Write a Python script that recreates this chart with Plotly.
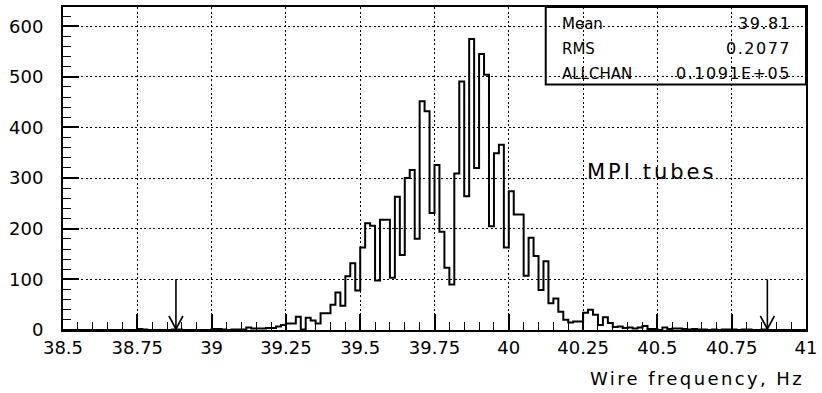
import plotly.graph_objects as go

# Wire frequency histogram: 150 bins between 38.5 and 41 Hz
x_low = 38.5
x_high = 41.0
n_bins = 150
counts = [
    0, 0, 0, 0, 0, 0, 0, 0, 0, 0,
    0, 0, 0, 0, 0, 2, 1, 0, 0, 0,
    0, 0, 1, 1, 0, 0, 0, 0, 0, 0,
    2, 2, 1, 0, 1, 1, 1, 5, 3, 3,
    3, 4, 4, 7, 10, 13, 13, 26, 1, 24,
    19, 13, 33, 33, 50, 74, 48, 106, 132, 78,
    163, 211, 206, 98, 218, 218, 103, 263, 148, 300,
    316, 180, 452, 432, 231, 326, 194, 123, 90, 309,
    491, 264, 575, 320, 545, 504, 205, 349, 366, 163,
    274, 228, 228, 107, 182, 146, 79, 136, 53, 62,
    36, 20, 15, 17, 17, 34, 40, 30, 10, 25,
    14, 6, 7, 4, 5, 3, 5, 8, 2, 2,
    0, 5, 2, 3, 3, 2, 1, 2, 1, 1,
    0, 1, 0, 1, 1, 1, 0, 1, 1, 0,
    0, 1, 0, 0, 0, 0, 0, 0, 0, 0,
]

# Selection cuts marked with arrows
cut_positions = [38.88, 40.87]
cut_arrow_height = 100

# Statistics box
stat_names = ["Mean", "RMS", "ALLCHAN"]
stat_values = ["39.81", "0.2077", "0.1091E+05"]

x_ticks = [38.5, 38.75, 39, 39.25, 39.5, 39.75, 40, 40.25, 40.5, 40.75, 41]
x_tick_text = ["38.5", "38.75", "39", "39.25", "39.5", "39.75", "40", "40.25", "40.5", "40.75", "41"]
y_ticks = [0, 100, 200, 300, 400, 500, 600]

width = (x_high - x_low) / n_bins
edges = [x_low + i * width for i in range(n_bins + 1)]
step_y = counts + [counts[-1]]

FONT = "DejaVu Sans"
fig = go.Figure()

fig.add_trace(go.Scatter(
    x=[edges[0]] + edges + [edges[-1]],
    y=[0] + step_y + [0],
    mode="lines",
    line=dict(color="black", width=2, shape="hv"),
    hoverinfo="skip",
    showlegend=False,
))

shapes = []
for c in cut_positions:
    shapes.append(dict(type="line", xref="x", yref="y", x0=c, x1=c, y0=0, y1=cut_arrow_height,
                       line=dict(color="black", width=1.6)))
    for dx in (-7, 7):
        shapes.append(dict(type="line", xref="x", yref="y",
                           xsizemode="pixel", xanchor=c, x0=dx, x1=0,
                           ysizemode="pixel", yanchor=0, y0=14, y1=1,
                           line=dict(color="black", width=1.6)))

# frame of the statistics box
shapes.append(dict(type="rect", xref="paper", yref="paper", x0=0.6497, x1=1.0, y0=0.76, y1=1.0,
                   line=dict(color="black", width=2), fillcolor="rgba(0,0,0,0)"))

annotations = []
stat_y = [0.9477, 0.8708, 0.7938]
for name, val, yy in zip(stat_names, stat_values, stat_y):
    annotations.append(dict(text=name, xref="paper", yref="paper", x=0.669, y=yy,
                            xanchor="left", yanchor="middle", showarrow=False,
                            font=dict(family=FONT, size=15, color="black")))
    annotations.append(dict(text='<span style="letter-spacing:1.5px">' + val + '</span>',
                            xref="paper", yref="paper", x=0.983, y=yy,
                            xanchor="right", yanchor="middle", showarrow=False,
                            font=dict(family=FONT, size=16, color="black")))

annotations.append(dict(text='<span style="letter-spacing:3px">MPI tubes</span>',
                        xref="paper", yref="paper", x=0.702, y=0.488,
                        xanchor="left", yanchor="middle", showarrow=False,
                        font=dict(family=FONT, size=21, color="black")))
annotations.append(dict(text='<span style="letter-spacing:2.4px">Wire frequency, Hz</span>',
                        xref="paper", yref="paper", x=1.0, y=-0.151,
                        xanchor="right", yanchor="middle", showarrow=False,
                        font=dict(family=FONT, size=18, color="black")))

grid_dash = "2px,2.5px"
fig.update_layout(
    width=822, height=393,
    margin=dict(l=63, r=14, t=5, b=63),
    paper_bgcolor="white", plot_bgcolor="white",
    font=dict(family=FONT, size=18, color="black"),
    shapes=shapes,
    annotations=annotations,
    xaxis=dict(
        range=[x_low, x_high], tickmode="array", tickvals=x_ticks, ticktext=x_tick_text,
        ticks="inside", ticklen=16, tickwidth=1.6, tickcolor="black",
        showline=True, linecolor="black", linewidth=2, mirror=True,
        showgrid=True, gridcolor="black", gridwidth=1.3, griddash=grid_dash,
        zeroline=False,
        minor=dict(dtick=0.05, tick0=38.5, ticks="inside", ticklen=8, tickwidth=1.4,
                   tickcolor="black", showgrid=False),
        tickfont=dict(family=FONT, size=18, color="black"),
    ),
    yaxis=dict(
        range=[0, 638], tickmode="array", tickvals=y_ticks,
        ticks="inside", ticklen=16, tickwidth=1.6, tickcolor="black",
        showline=True, linecolor="black", linewidth=2, mirror=True,
        showgrid=True, gridcolor="black", gridwidth=1.3, griddash=grid_dash,
        zeroline=False,
        minor=dict(dtick=20, tick0=0, ticks="inside", ticklen=8, tickwidth=1.4,
                   tickcolor="black", showgrid=False),
        tickfont=dict(family=FONT, size=18, color="black"),
        ticklabelstandoff=14,
    ),
)

fig.write_html("out.html")
